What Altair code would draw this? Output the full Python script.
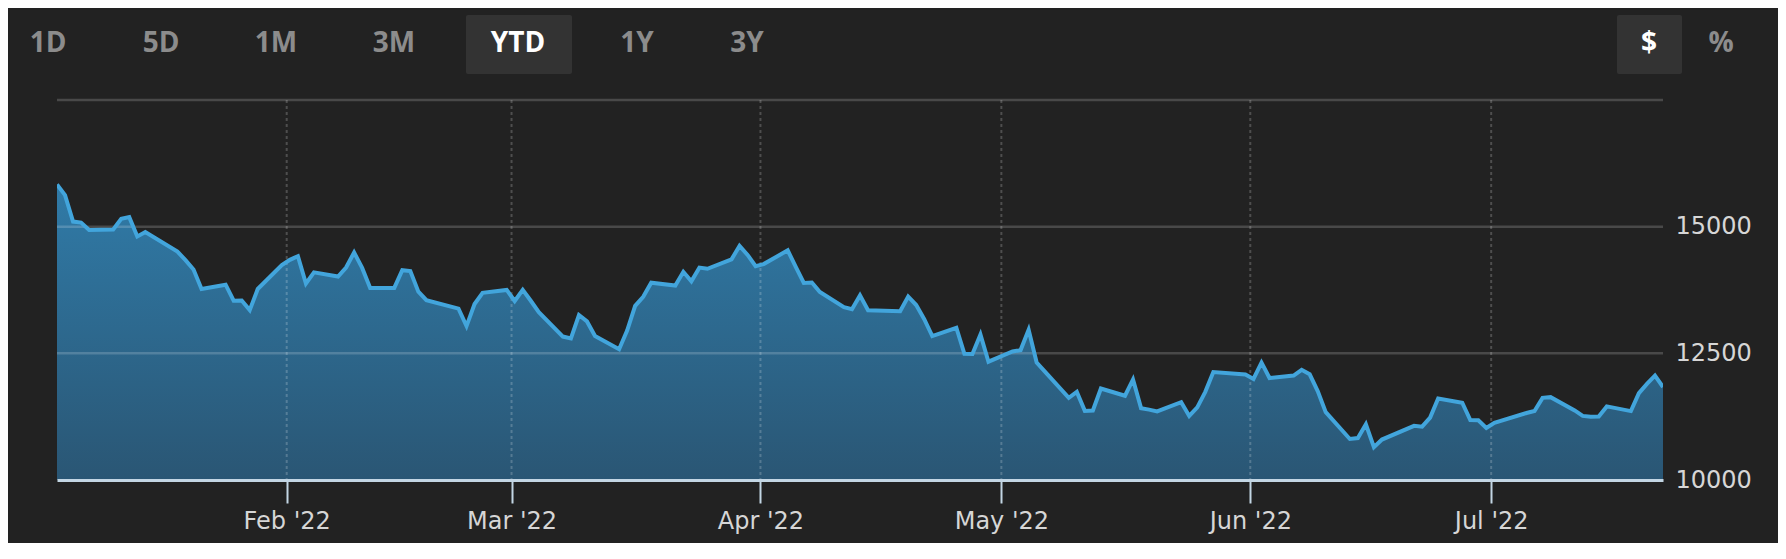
import altair as alt
import pandas as pd

# ---- data: daily closing values (Jan 3 - Jul 22, 2022) ----
JAN = [15832.80, 15622.72, 15100.17, 15080.86, 14935.90, 14942.83, 15153.45, 15188.39,
       14806.81, 14893.75, 14506.90, 14340.26, 14154.02, 13768.92, 13855.13, 13539.29,
       13542.12, 13352.78, 13770.57, 14239.88]
FEB = [14346.00, 14417.55, 13878.82, 14098.01, 14015.67, 14194.46, 14490.37, 14185.64,
       13791.15, 13790.92, 14139.76, 14124.09, 13716.72, 13548.07, 13381.52, 13037.49,
       13473.59, 13694.62, 13751.40]
MAR = [13532.46, 13752.02, 13537.94, 13313.44, 12830.96, 12795.55, 13255.55, 13129.96,
       12843.81, 12581.22, 12948.62, 13436.55, 13614.78, 13893.84, 13838.46, 14108.82,
       13922.60, 14191.84, 14169.30, 14354.90, 14619.64, 14442.27, 14220.52]
APR = [14261.50, 14532.55, 14204.17, 13888.82, 13897.30, 13711.00, 13411.96, 13371.57,
       13643.59, 13351.08, 13332.36, 13619.66, 13453.07, 13174.65, 12839.29, 13004.85,
       12490.74, 12488.93, 12871.53, 12334.64]
MAY = [12536.02, 12563.76, 12964.86, 12317.69, 12144.66, 11623.25, 11737.67, 11364.24,
       11370.96, 11805.00, 11662.79, 11984.52, 11418.15, 11388.50, 11354.62, 11535.27,
       11264.45, 11434.74, 11740.65, 12131.13, 12081.39]
JUN = [11994.46, 12316.90, 12012.73, 12061.37, 12175.23, 12086.27, 11754.23, 11340.02,
       10809.23, 10828.35, 11099.15, 10646.10, 10798.35, 11069.30, 11053.08, 11232.19,
       11607.62, 11524.55, 11181.54, 11177.89, 11028.74]
JUL = [11127.85, 11322.24, 11361.85, 11621.35, 11635.31, 11372.60, 11264.73, 11247.58,
       11251.19, 11452.42, 11360.05, 11713.15, 11897.65, 12059.61, 11834.11]
VALUES = JAN + FEB + MAR + APR + MAY + JUN + JUL

HOLIDAYS = ["2022-01-17", "2022-02-21", "2022-04-15", "2022-05-30", "2022-06-20", "2022-07-04"]
START, END = "2022-01-03", "2022-07-22"

RANGE_BUTTONS = ["1D", "5D", "1M", "3M", "YTD", "1Y", "3Y"]
ACTIVE_RANGE = "YTD"
UNIT_BUTTONS = ["$", "%"]
ACTIVE_UNIT = "$"

Y_TICKS = [10000, 12500, 15000, 17500]
Y_LABELLED_MAX = 15000
MONTH_TICKS = [2, 3, 4, 5, 6, 7]

days = pd.bdate_range(START, END)
days = days[~days.isin(pd.to_datetime(HOLIDAYS))]
df = pd.DataFrame({"date": days.strftime("%Y-%m-%dT09:30:00"), "value": VALUES})

# ---- layout / style ----
W, H = 1606, 380
BG = "#222222"
AXIS_FONT = "DejaVu Sans"
BTN_FONT = "Open Sans"
LABEL_COLOR = "#d6d6d6"
AXIS_COLOR = "#c3d6e4"
LINE_COLOR = "#42a5dc"

x_scale = alt.Scale(
    domain=[alt.DateTime(year=2022, month=1, date=3, hours=9, minutes=30),
            alt.DateTime(year=2022, month=7, date=22, hours=9, minutes=30)],
    nice=False,
)
y_scale = alt.Scale(domain=[Y_TICKS[0], Y_TICKS[-1]], zero=False, nice=False)

x_axis = alt.Axis(
    values=[alt.DateTime(year=2022, month=m, date=1) for m in MONTH_TICKS],
    format="%b '%y", labelFont=AXIS_FONT, labelFontSize=24, labelColor=LABEL_COLOR,
    labelPadding=6, labelFlush=False, labelOverlap=False,
    tickColor=AXIS_COLOR, tickWidth=2, tickSize=23,
    domainColor=AXIS_COLOR, domainWidth=3, grid=False, title=None, zindex=1,
)
y_axis = alt.Axis(
    orient="right", values=Y_TICKS, format="d",
    labelExpr=f"datum.value > {Y_LABELLED_MAX} ? '' : datum.label",
    labelFont=AXIS_FONT, labelFontSize=24, labelColor=LABEL_COLOR, labelPadding=12,
    ticks=False, tickSize=0, domain=False, grid=False, title=None,
)

X = alt.X("date:T", scale=x_scale, axis=x_axis)
Y = alt.Y("value:Q", scale=y_scale, axis=y_axis)

area = alt.Chart(df).mark_area(
    color=alt.Gradient(
        gradient="linear",
        stops=[alt.GradientStop(color="#307ba8", offset=0),
               alt.GradientStop(color="#2a5674", offset=1)],
        x1=1, x2=1, y1=0, y2=1,
    ),
    clip=True,
).encode(x=X, y=Y, y2=alt.datum(Y_TICKS[0]))

line = alt.Chart(df).mark_line(color=LINE_COLOR, strokeWidth=4, clip=True).encode(x=X, y=Y)

hgrid = alt.Chart(pd.DataFrame({"value": Y_TICKS[1:]})).mark_rule(
    color="#ffffff", opacity=0.18, strokeWidth=2.5
).encode(y=Y)

vgrid = alt.Chart(pd.DataFrame({"date": [f"2022-{m:02d}-01T00:00:00" for m in MONTH_TICKS]})).mark_rule(
    color="#ffffff", opacity=0.2, strokeWidth=2, strokeDash=[3, 3]
).encode(x=X)

layers = [area, hgrid, vgrid, line]

# ---- toolbar buttons (decoration) ----
RANGE_X = [-9, 104, 219, 337, 461, 580, 690]
UNIT_X = [1592, 1664]
BTN_Y = -56
BOX = {"YTD": (409, 515), "$": (1560, 1625)}

for lab, px in list(zip(RANGE_BUTTONS, RANGE_X)) + list(zip(UNIT_BUTTONS, UNIT_X)):
    active = lab in (ACTIVE_RANGE, ACTIVE_UNIT)
    one = pd.DataFrame({"label": [lab]})
    if active:
        x0, x1 = BOX[lab]
        layers.append(
            alt.Chart(one).mark_rect(color="#333333", cornerRadius=2).encode(
                x=alt.value(x0), x2=alt.value(x1), y=alt.value(-85), y2=alt.value(-26)
            )
        )
    layers.append(
        alt.Chart(one).mark_text(
            font=BTN_FONT, fontSize=28, fontWeight="bold", align="center", baseline="middle",
            color="#ffffff" if active else "#8c8c8c",
        ).encode(text="label:N", x=alt.value(px), y=alt.value(BTN_Y))
    )

chart = alt.layer(*layers).properties(
    width=W, height=H,
    background=BG,
    padding={"left": 49, "top": 92, "right": 115, "bottom": 63},
    autosize=alt.AutoSizeParams(type="none"),
).configure_view(stroke=None)

chart.save("out.html", embed_options={"renderer": "svg", "actions": False})
